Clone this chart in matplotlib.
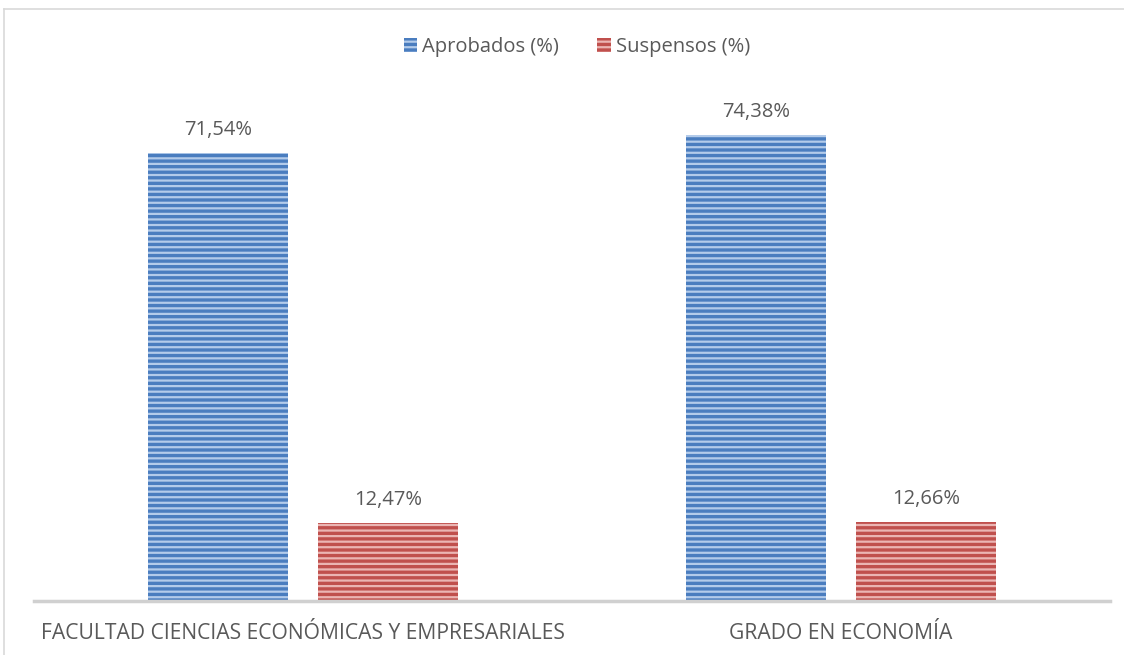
import matplotlib
matplotlib.use("Agg")
import matplotlib.pyplot as plt
from matplotlib.lines import Line2D
from matplotlib.patches import Patch
import numpy as np

categories = ["FACULTAD CIENCIAS ECONÓMICAS Y EMPRESARIALES", "GRADO EN ECONOMÍA"]
series_names = ["Aprobados (%)", "Suspensos (%)"]
aprobados = [71.54, 74.38]
suspensos = [12.47, 12.66]
labels_aprob = ["71,54%", "74,38%"]
labels_susp = ["12,47%", "12,66%"]

W, H = 1124, 655
fig = plt.figure(figsize=(W / 100, H / 100), dpi=100)
plt.rcParams['font.family'] = ['Open Sans', 'DejaVu Sans']
plt.rcParams['hatch.linewidth'] = 1.6

# axes: x 34..1110 px, y 100..601 px (from top)
ax = fig.add_axes([34 / W, 1 - 601 / H, (1110 - 34) / W, (601 - 100) / H])
ax.set_xlim(-0.5, 1.5)
ax.set_ylim(0, 80)

x = np.arange(len(categories))
bw = 0.26
off = 0.158
blue = "#4a7dbf"
red = "#c0504d"
blue_h = "#b3cbea"
red_h = "#ebb5b3"
text_col = "#595959"
fs = 14.5

b1 = ax.bar(x - off, aprobados, bw, color=blue, edgecolor=blue_h, hatch="---", linewidth=0)
b2 = ax.bar(x + off, suspensos, bw, color=red, edgecolor=red_h, hatch="---", linewidth=0)

for bars, labs in ((b1, labels_aprob), (b2, labels_susp)):
    for rect, lab in zip(bars, labs):
        ax.annotate(lab, (rect.get_x() + rect.get_width() / 2, rect.get_height()),
                    xytext=(0, 9.5), textcoords="offset points", ha="center", va="bottom",
                    fontsize=fs, color=text_col)

for s in ["top", "right", "left"]:
    ax.spines[s].set_visible(False)
ax.spines["bottom"].set_color("#d0d0d0")
ax.spines["bottom"].set_linewidth(2.5)
ax.set_yticks([])
ax.set_xticks(x)
ax.set_xticklabels(categories, fontsize=15.2, color=text_col)
ax.tick_params(axis="x", length=0, pad=16)

handles = [Patch(facecolor=blue, edgecolor=blue_h, hatch="---", linewidth=0),
           Patch(facecolor=red, edgecolor=red_h, hatch="---", linewidth=0)]
leg = fig.legend(handles, series_names, loc="center", bbox_to_anchor=(577 / W, 1 - 47 / H),
                 ncol=2, frameon=False, fontsize=fs, handlelength=0.65, handleheight=0.65,
                 handletextpad=0.25, columnspacing=1.9)
for t in leg.get_texts():
    t.set_color(text_col)

# chart border
fig.add_artist(Line2D([4 / W, 4 / W], [0, 1 - 9 / H], color="#d9d9d9", lw=1.2))
fig.add_artist(Line2D([4 / W, 1], [1 - 9 / H, 1 - 9 / H], color="#d9d9d9", lw=1.2))

fig.savefig("out.png", dpi=100)
